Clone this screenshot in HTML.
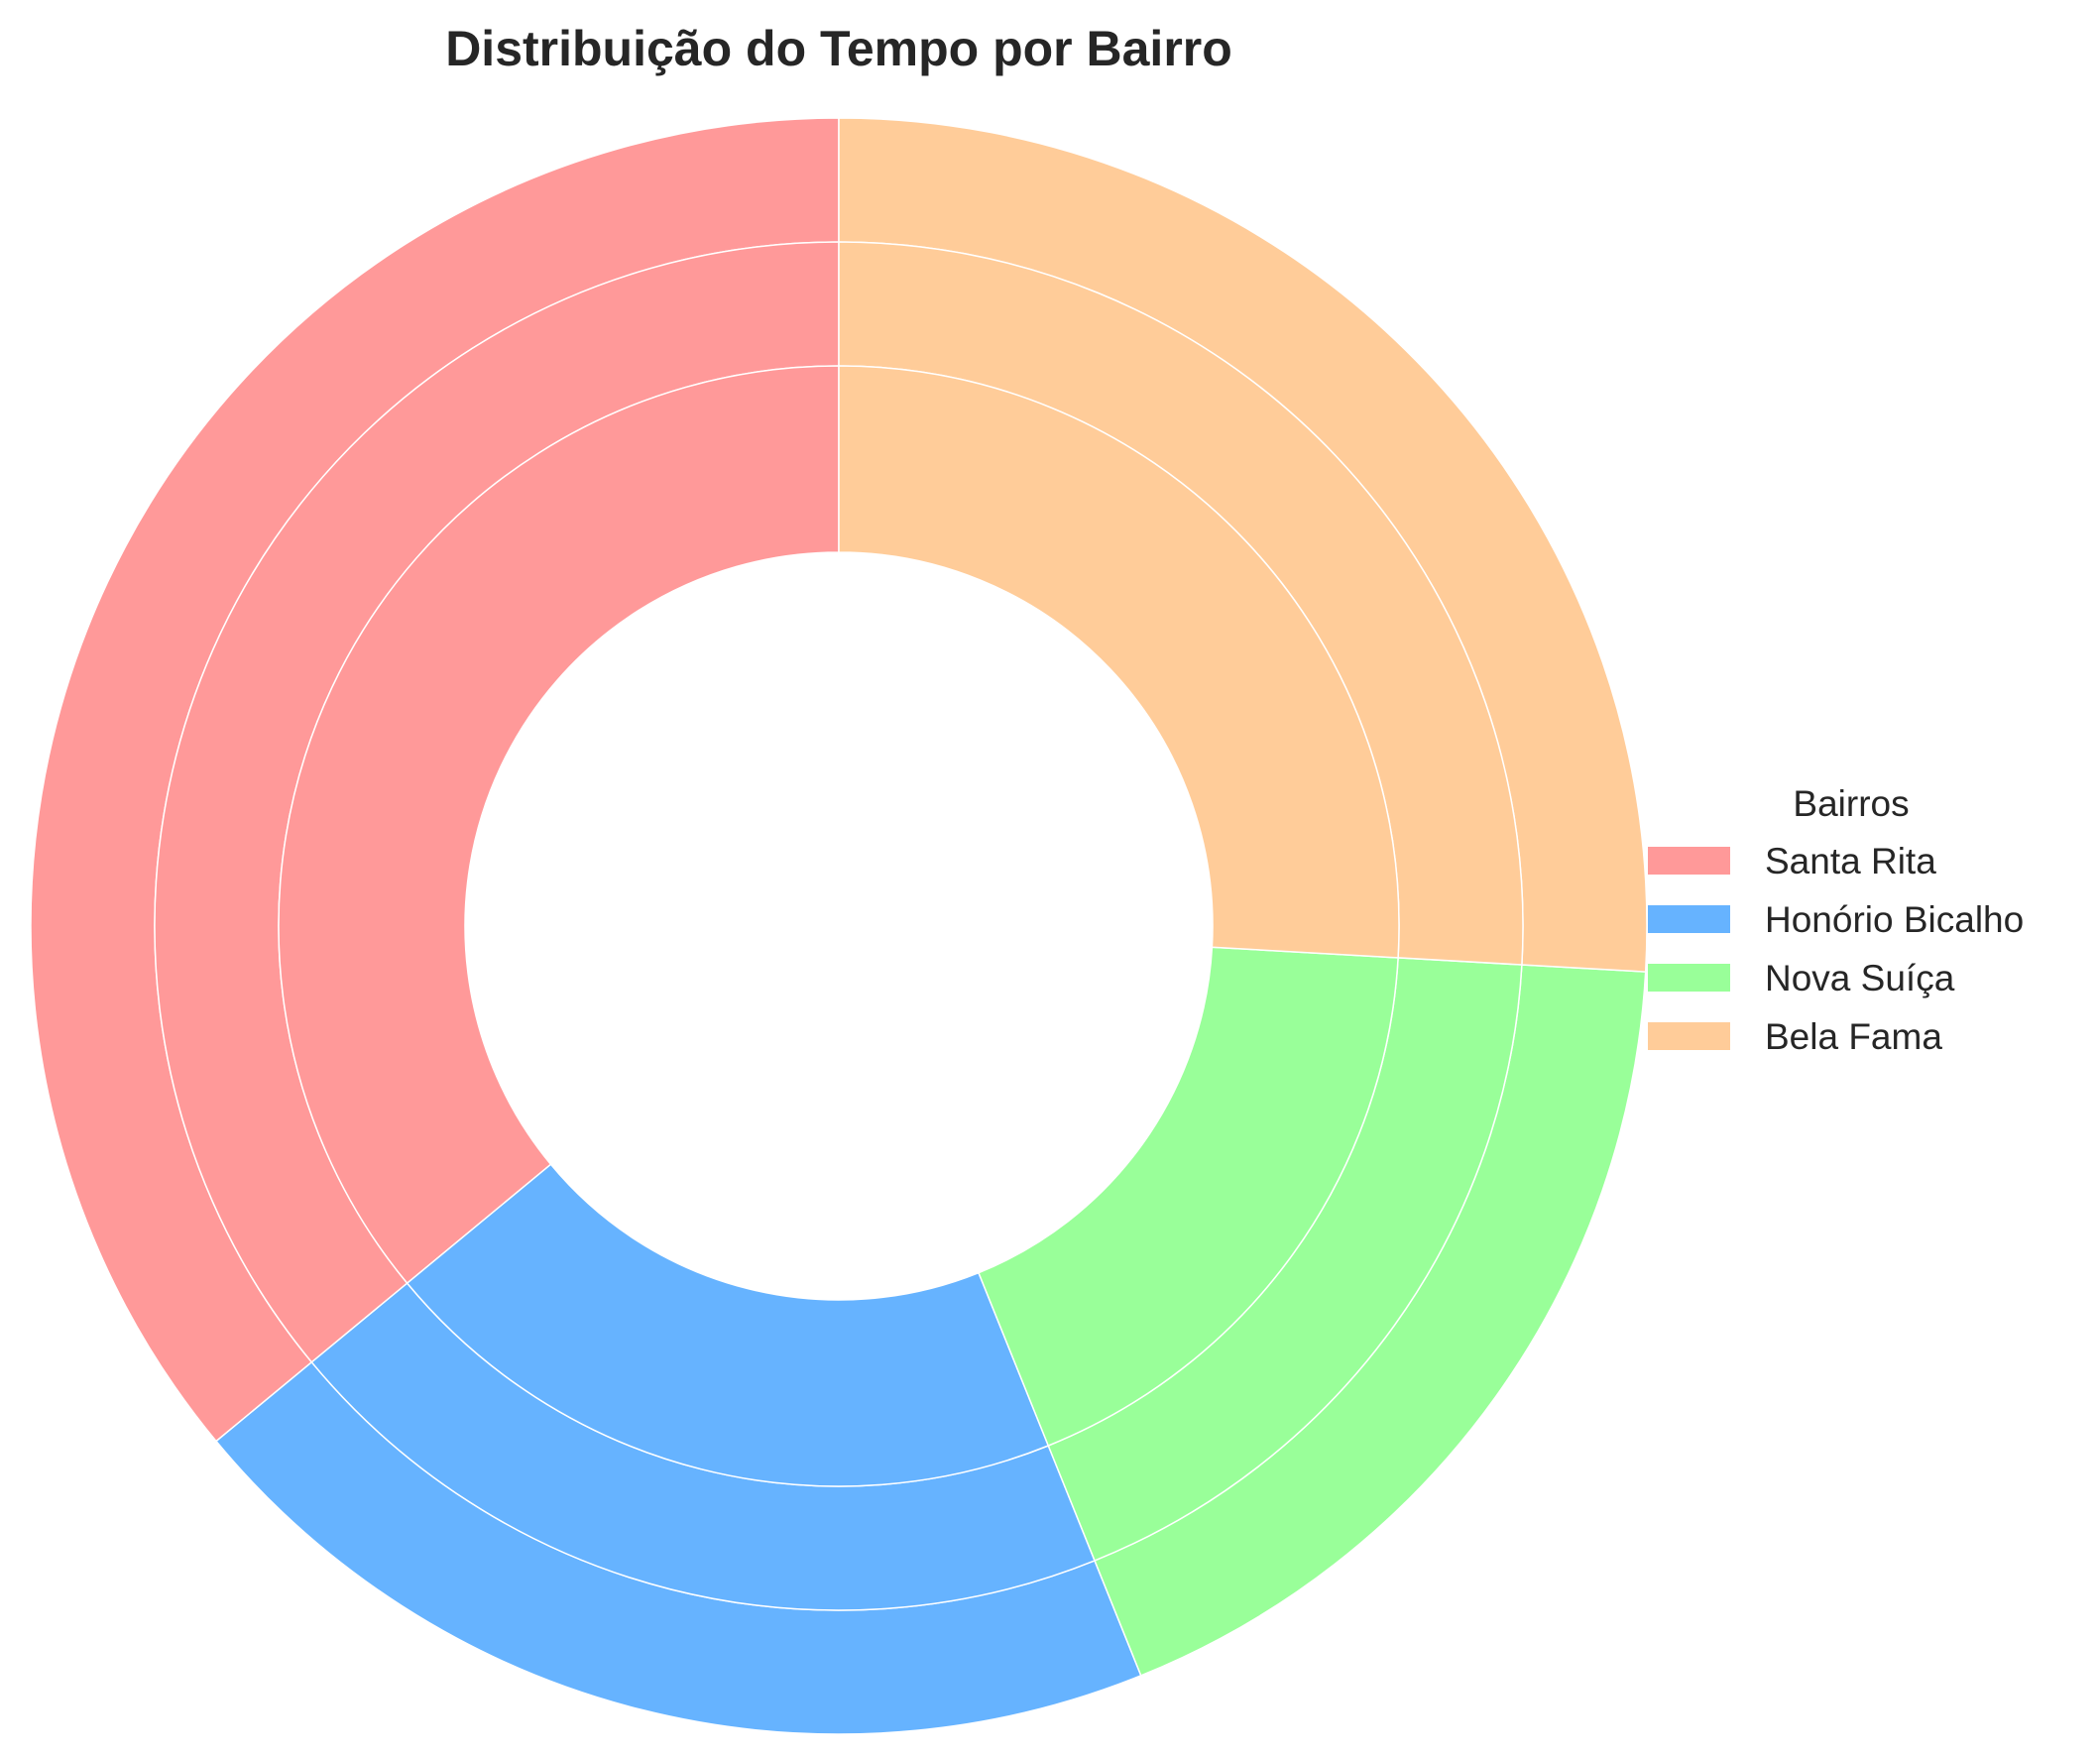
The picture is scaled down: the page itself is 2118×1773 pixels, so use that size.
<!DOCTYPE html>
<html><head><meta charset="utf-8"><style>
html,body{margin:0;padding:0;background:#fff;}
svg{display:block;font-family:"Liberation Sans",Arial,sans-serif;}
</style></head><body>
<svg id="chart" width="2118" height="1773" viewBox="0 0 2118 1773">
<text x="846" y="66" text-anchor="middle" font-size="50" font-weight="bold" fill="#262626">Distribuição do Tempo por Bairro</text>
<g id="rings"></g>
<g id="legend">
<text x="1867" y="823" text-anchor="middle" font-size="37" fill="#262626">Bairros</text>
</g>
</svg>
<script>
const categories = ["Santa Rita", "Honório Bicalho", "Nova Suíça", "Bela Fama"];
const outerValues = [36.0, 20.1, 18.0, 25.9];
const middleValues = [36.0, 20.1, 18.0, 25.9];
const innerValues = [36.0, 20.1, 18.0, 25.9];
const colors = ["#ff9999", "#66b3ff", "#99ff99", "#ffcc99"];

const cx = 846, cy = 934;
const ringDefs = [
  {vals: outerValues, r0: 690, r1: 815, name: 'outer'},
  {vals: middleValues, r0: 565, r1: 690, name: 'middle'},
  {vals: innerValues, r0: 377, r1: 565, name: 'inner'}
];
const NS = "http://www.w3.org/2000/svg";
const ringsG = document.getElementById('rings');
function pt(r, a){ return [cx + r*Math.cos(a), cy - r*Math.sin(a)]; }
ringDefs.forEach(rd => {
  const total = rd.vals.reduce((s,v)=>s+v,0);
  let a = Math.PI/2;
  rd.vals.forEach((v,i) => {
    const da = v/total*2*Math.PI;
    const a2 = a + da;
    const large = da > Math.PI ? 1 : 0;
    const [x1,y1] = pt(rd.r1,a), [x2,y2] = pt(rd.r1,a2);
    const [x3,y3] = pt(rd.r0,a2), [x4,y4] = pt(rd.r0,a);
    const d = `M${x1},${y1} A${rd.r1},${rd.r1} 0 ${large} 0 ${x2},${y2} L${x3},${y3} A${rd.r0},${rd.r0} 0 ${large} 1 ${x4},${y4} Z`;
    const p = document.createElementNS(NS,'path');
    p.setAttribute('d', d);
    p.setAttribute('fill', colors[i]);
    p.setAttribute('stroke', '#ffffff');
    p.setAttribute('stroke-width', '1.5');
    
    
    ringsG.appendChild(p);
    a = a2;
  });
});
const legendG = document.getElementById('legend');
categories.forEach((c,i) => {
  const y = 854 + i*59;
  const r = document.createElementNS(NS,'rect');
  r.setAttribute('x', 1662); r.setAttribute('y', y);
  r.setAttribute('width', 83); r.setAttribute('height', 28);
  r.setAttribute('fill', colors[i]);
  
  
  legendG.appendChild(r);
  const t = document.createElementNS(NS,'text');
  t.setAttribute('x', 1780); t.setAttribute('y', y + 27);
  t.setAttribute('font-size', 37); t.setAttribute('fill', '#262626');
  t.textContent = c;
  
  
  legendG.appendChild(t);
});
</script>
</body></html>
